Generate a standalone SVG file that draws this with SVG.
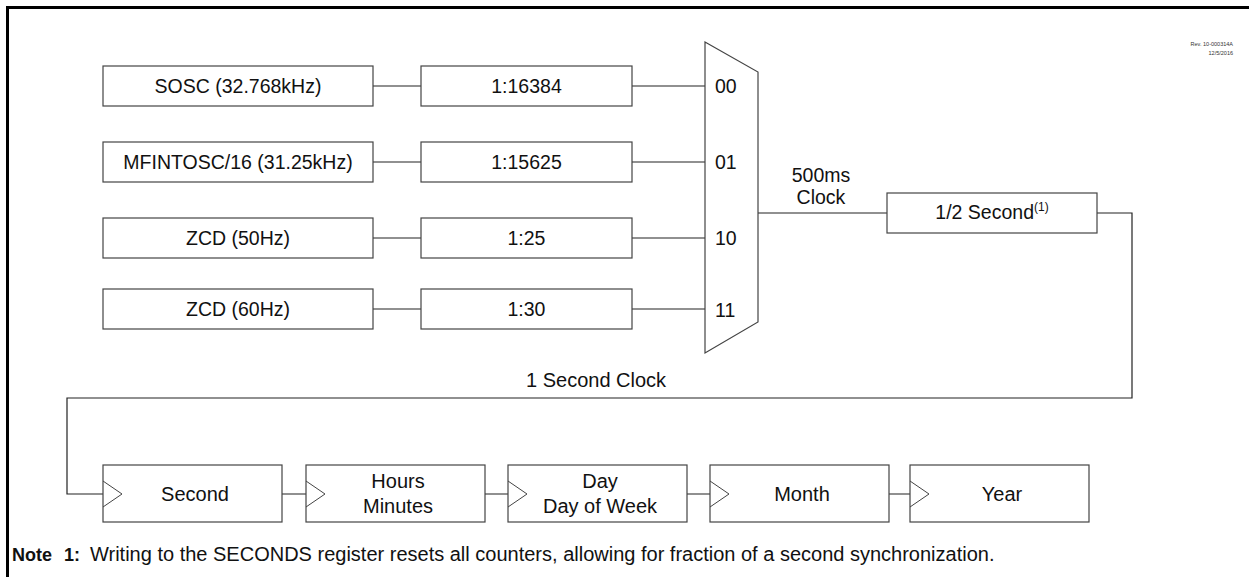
<svg xmlns="http://www.w3.org/2000/svg" width="1249" height="577" viewBox="0 0 1249 577">
<style>
.box{fill:#fff;stroke:#444;stroke-width:1.2}
.t{font-family:"Liberation Sans",Arial,sans-serif;font-size:19.5px;fill:#111}
.tb{font-family:"Liberation Sans",Arial,sans-serif;font-size:20px;fill:#111}
.c{text-anchor:middle}
.w{fill:none;stroke:#222;stroke-width:1.2}
.clk{fill:none;stroke:#444;stroke-width:1}
.rev{font-family:"Liberation Sans",Arial,sans-serif;font-size:5.5px;fill:#333;text-anchor:end}
.nb{font-family:"Liberation Sans",Arial,sans-serif;font-size:18px;font-weight:bold;fill:#111}
</style>
<rect width="1249" height="577" fill="#fff"/>
<rect x="7.5" y="7.5" width="1300" height="700" fill="none" stroke="#000" stroke-width="3"/>
<text class="rev" x="1233" y="46">Rev. 10-000314A</text>
<text class="rev" x="1233" y="55">12/5/2016</text>

<g id="connectors">
<path class="w" d="M373,86H421M373,162H421M373,238H421M373,309H421"/>
<path class="w" d="M632,86H705M632,162H705M632,238H705M632,309H705"/>
<path class="w" d="M758,213H887"/>
<path class="w" d="M1097,213H1132V398H67V494H103"/>
<path class="w" d="M282,494H306M485,494H508M687,494H710M889,494H910"/>
</g>

<g id="sosc"><rect class="box" x="103" y="66" width="270" height="40"/><text class="t c" x="238" y="93">SOSC (32.768kHz)</text></g>
<g id="mfintosc"><rect class="box" x="103" y="142" width="270" height="40"/><text class="t c" x="238" y="169">MFINTOSC/16 (31.25kHz)</text></g>
<g id="zcd50"><rect class="box" x="103" y="218" width="270" height="40"/><text class="t c" x="238" y="245">ZCD (50Hz)</text></g>
<g id="zcd60"><rect class="box" x="103" y="289" width="270" height="40"/><text class="t c" x="238" y="316">ZCD (60Hz)</text></g>

<g id="div16384"><rect class="box" x="421" y="66" width="211" height="40"/><text class="t c" x="526.5" y="93">1:16384</text></g>
<g id="div15625"><rect class="box" x="421" y="142" width="211" height="40"/><text class="t c" x="526.5" y="169">1:15625</text></g>
<g id="div25"><rect class="box" x="421" y="218" width="211" height="40"/><text class="t c" x="526.5" y="245">1:25</text></g>
<g id="div30"><rect class="box" x="421" y="289" width="211" height="40"/><text class="t c" x="526.5" y="316">1:30</text></g>

<g id="mux">
<polygon class="box" points="705,42 758,72 758,322 705,353"/>
<text class="t" x="715" y="93">00</text>
<text class="t" x="715" y="169">01</text>
<text class="t" x="715" y="245">10</text>
<text class="t" x="715" y="317">11</text>
</g>

<g id="lbl500"><text class="t c" x="821" y="182">500ms</text><text class="t c" x="821" y="204">Clock</text></g>

<g id="half"><rect class="box" x="887" y="193" width="210" height="40"/><text class="t c" x="992" y="219">1/2 Second<tspan font-size="12px" dy="-8">(1)</tspan></text></g>

<g id="lbl1s"><text class="tb" x="526" y="387">1 Second Clock</text></g>

<g id="second"><rect class="box" x="103" y="465" width="179" height="57"/><path class="clk" d="M103,481L122,494L103,507"/><text class="tb c" x="195" y="501">Second</text></g>
<g id="hours"><rect class="box" x="306" y="465" width="179" height="57"/><path class="clk" d="M306,481L325,494L306,507"/><text class="tb c" x="398" y="488">Hours</text><text class="tb c" x="398" y="513">Minutes</text></g>
<g id="day"><rect class="box" x="508" y="465" width="179" height="57"/><path class="clk" d="M508,481L527,494L508,507"/><text class="tb c" x="600" y="488">Day</text><text class="tb c" x="600" y="513">Day of Week</text></g>
<g id="month"><rect class="box" x="710" y="465" width="179" height="57"/><path class="clk" d="M710,481L729,494L710,507"/><text class="tb c" x="802" y="501">Month</text></g>
<g id="year"><rect class="box" x="910" y="465" width="179" height="57"/><path class="clk" d="M910,481L929,494L910,507"/><text class="tb c" x="1002" y="501">Year</text></g>

<g id="note">
<text class="nb" x="12" y="561">Note</text>
<text class="nb" x="64" y="561">1:</text>
<text class="tb" x="90" y="561">Writing to the SECONDS register resets all counters, allowing for fraction of a second synchronization.</text>
</g>
</svg>
